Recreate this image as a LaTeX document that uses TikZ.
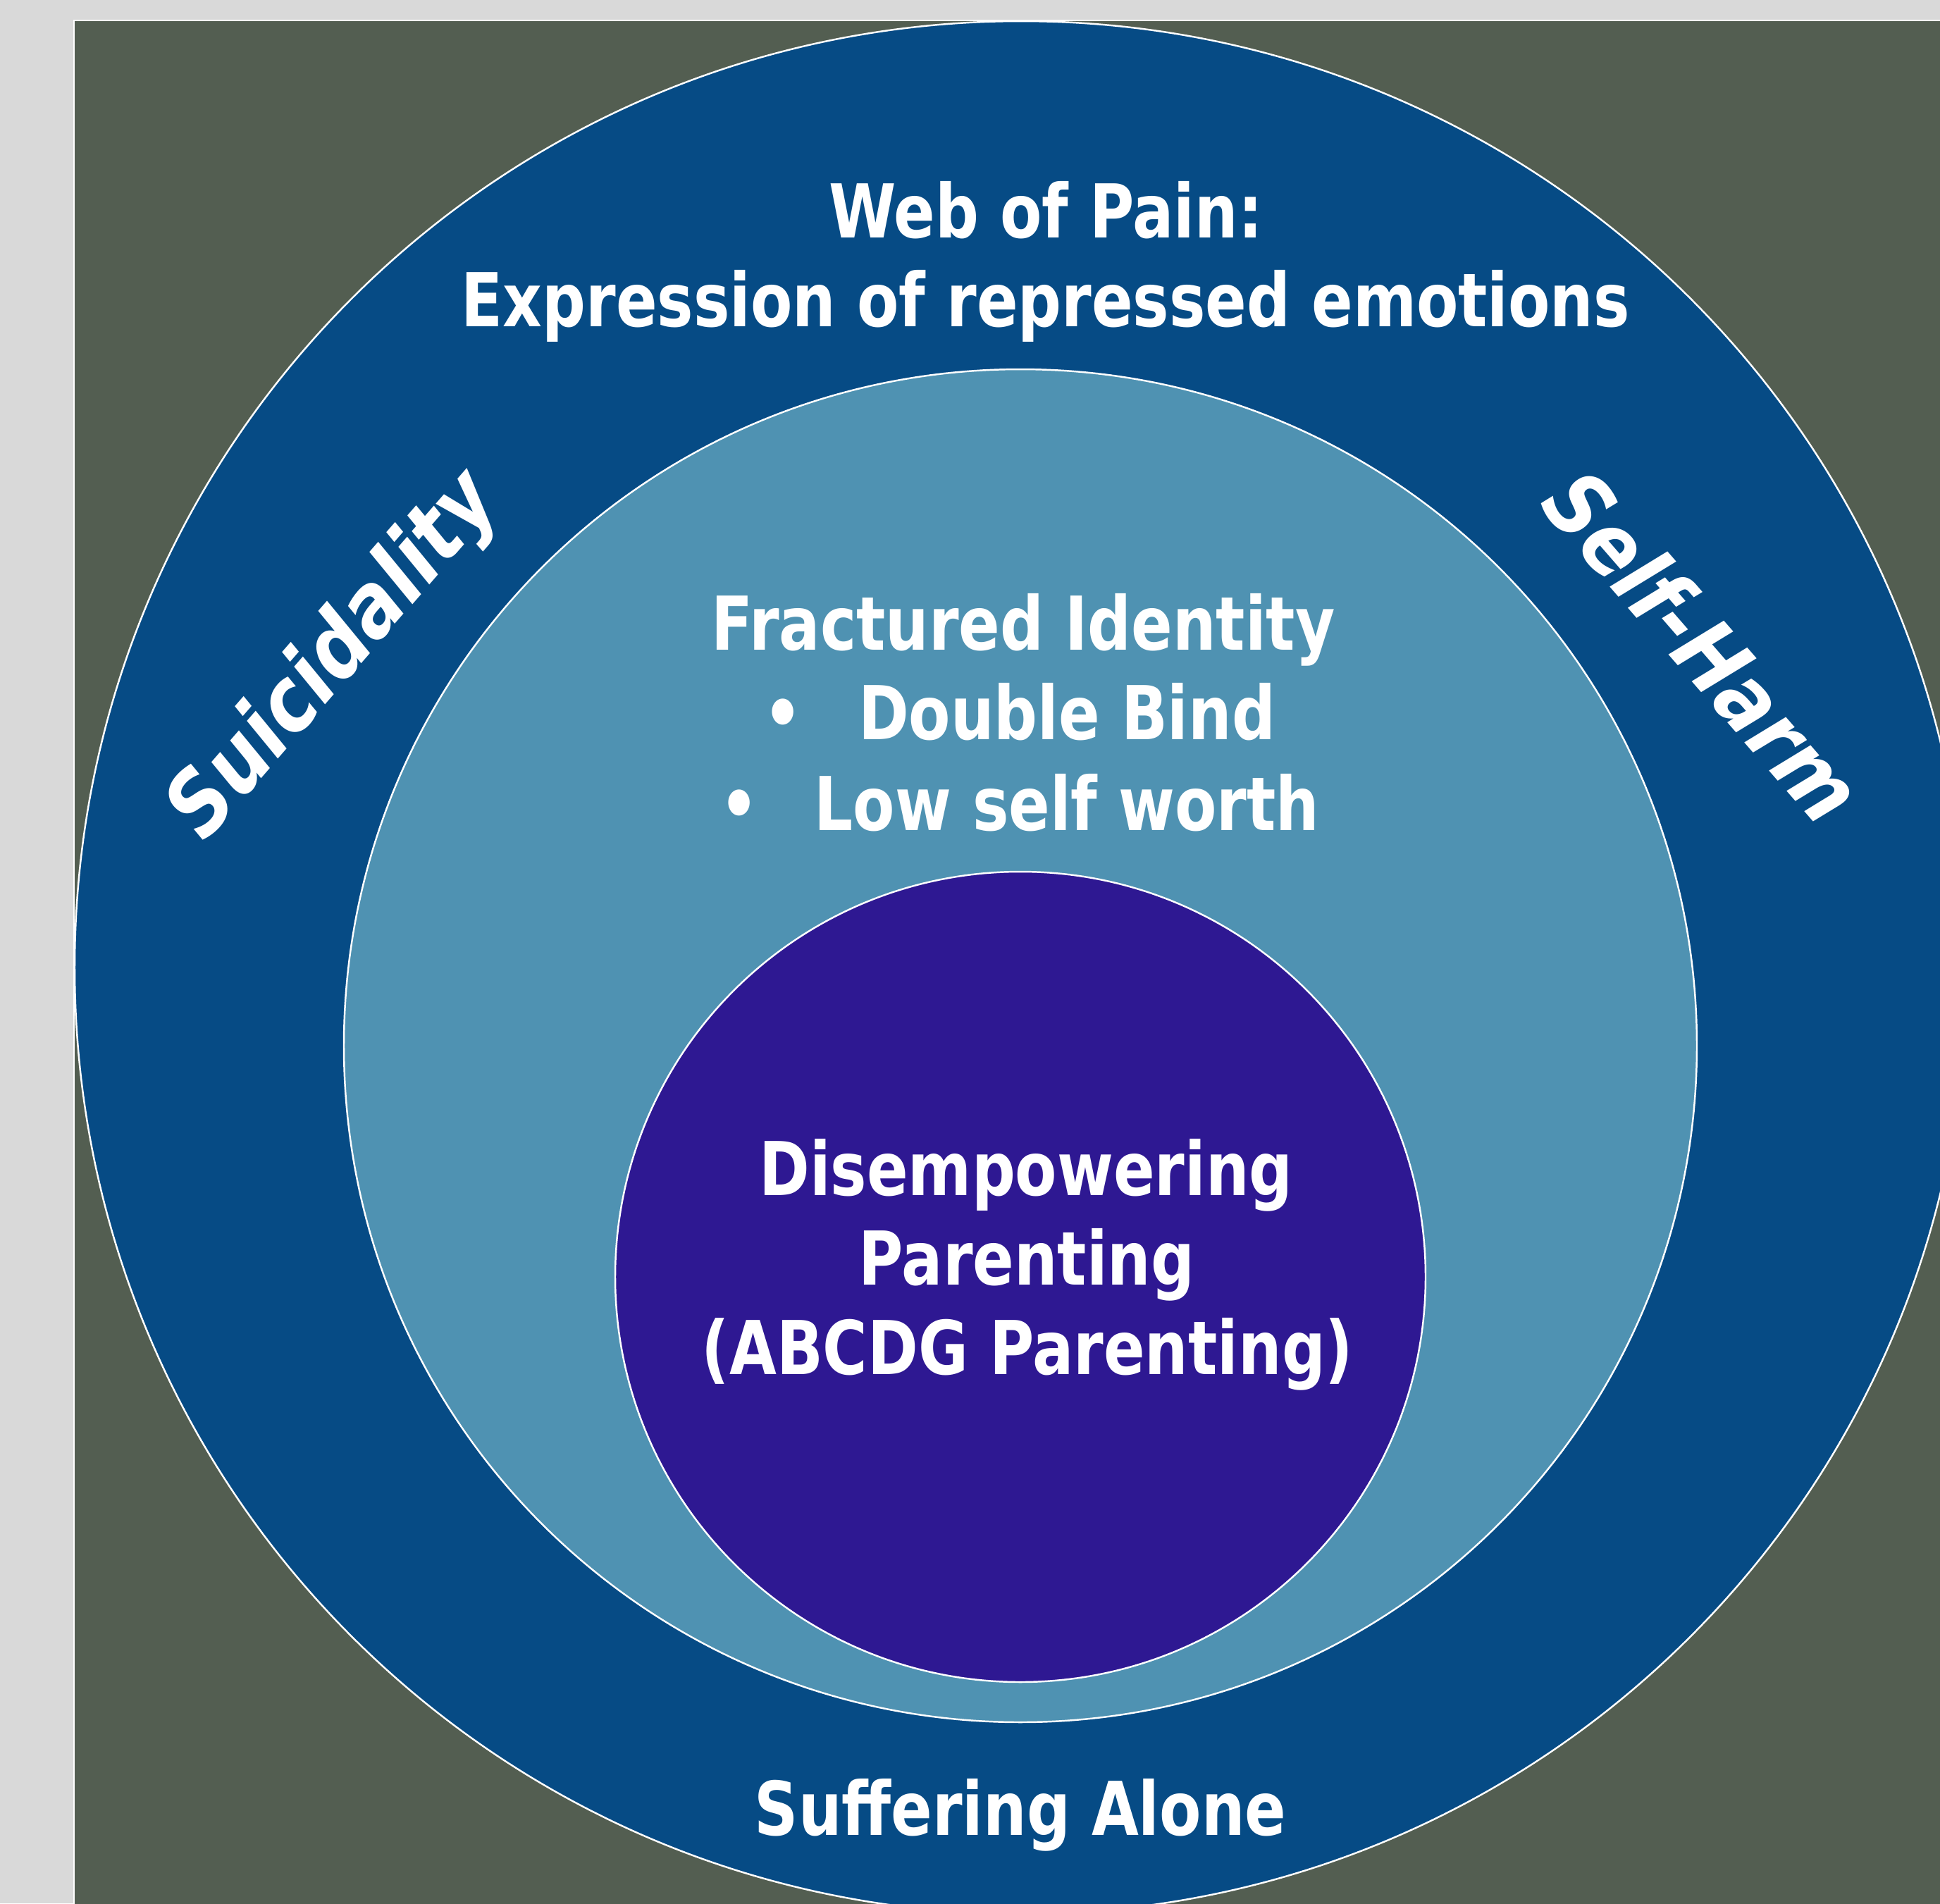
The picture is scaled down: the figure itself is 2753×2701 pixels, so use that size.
\documentclass[tikz,border=0pt]{standalone}
\usepackage{fontspec}
\setmainfont{DejaVu Sans}[FakeStretch=0.82]
\newfontfamily\sidefont{DejaVu Sans}[FakeStretch=0.87]

\definecolor{pagegrey}{HTML}{D9D9D9}
\definecolor{slate}{HTML}{535E51}
\definecolor{deepblue}{HTML}{064B85}
\definecolor{tealblue}{HTML}{4F92B2}
\definecolor{royalpurple}{HTML}{2E1892}

\begin{document}
\begin{tikzpicture}[x=0.1mm, y=-0.1mm,
    ring/.style={draw=white, line width=0.7pt},
    lbl/.style={text=white, inner sep=0pt, anchor=base, font=\bfseries\fontsize{30}{36}\selectfont},
    side/.style={text=white, inner sep=0pt, font=\sidefont\bfseries\itshape\fontsize{35.5}{40}\selectfont}]

    \useasboundingbox (0,0) rectangle (2753,2701);
    \fill[pagegrey] (0,0) rectangle (2753,2701);

    \begin{scope}
        \clip (0,0) rectangle (2753,2701);
        \draw[white, line width=0.45pt, fill=slate] (105,29) rectangle (2800,2760);
        % nested discs, outermost first
        \draw[ring, fill=deepblue] (1449,1373) circle [radius=13.43cm];
        \draw[ring, fill=tealblue] (1448,1484) circle [radius=9.60cm];
        \draw[ring, fill=royalpurple] (1448,1812) circle [radius=5.75cm];
    \end{scope}

    % outer ring
    \node[lbl] (web) at (1484,337) {Web of Pain:};
    \node[lbl] (expr) at (1484,463) {Expression of repressed emotions};
    \node[side, rotate=49] (suic) at (476,932) {Suicidality};
    \node[side, rotate=-49] (selfh) at (2418,916) {Self-Harm};
    \node[lbl] (alone) at (1448,2604) {Suffering Alone};

    % middle ring
    \node[lbl] (fract) at (1452,922) {Fractured Identity};
    \node[lbl] (dbind) at (1447,1049) {\textbullet\hspace{0.75em}Double Bind};
    \node[lbl] (lowsw) at (1447,1178) {\textbullet\hspace{0.75em}Low self worth};

    % core
    \node[lbl] (disemp) at (1456,1696) {Disempowering};
    \node[lbl] (parent) at (1457,1823) {Parenting};
    \node[lbl] (abcdg) at (1458,1950) {(ABCDG Parenting)};
\end{tikzpicture}
\end{document}
